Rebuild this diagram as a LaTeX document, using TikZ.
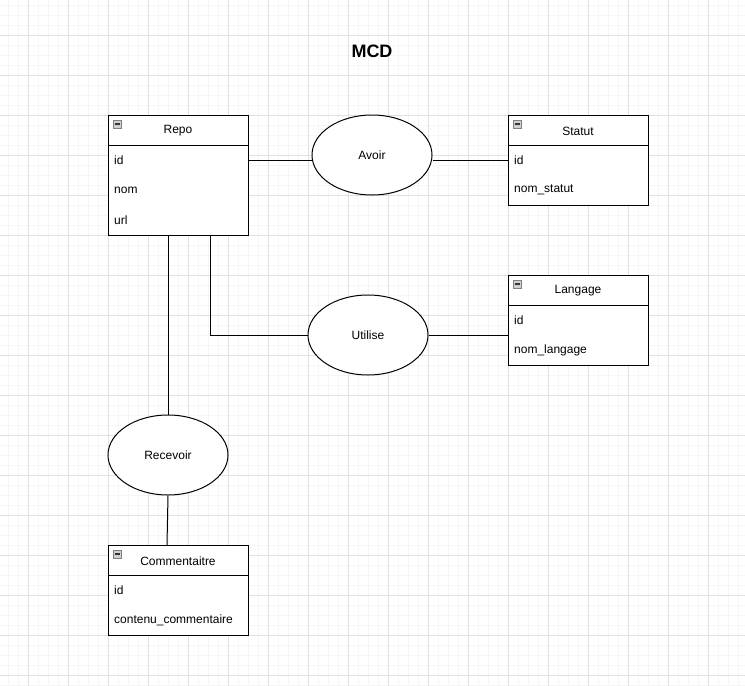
\documentclass[tikz,border=0pt]{standalone}
\usepackage{fontspec}
\setmainfont{Liberation Sans}
\usetikzlibrary{shapes.geometric}
\definecolor{gmajor}{HTML}{E0E0E0}
\definecolor{gminor}{HTML}{F6F6F6}
\definecolor{icongray}{HTML}{D0D0D0}
\tikzset{
  every node/.style={font=\fontsize{12}{14}\selectfont},
  entbox/.style={draw=black, line width=1pt, fill=white},
  assoc/.style={draw=black, ellipse, line width=1pt, fill=white, minimum width=120pt, minimum height=80pt, inner sep=0pt},
  link/.style={draw=black, line width=1pt},
  field/.style={anchor=west, inner sep=0pt},
  ttl/.style={inner sep=0pt},
  icon/.style={draw=gray, fill=icongray, line width=0.6pt, minimum size=8pt, inner sep=0pt},
}
\newcommand{\mkentity}[5]{% name, x, y, height, title
  \path[entbox] (#2pt,-#3pt) rectangle ++(140pt,-#4pt);
  \draw[line width=1pt] (#2pt,-#3pt-30pt) -- ++(140pt,0);
  \node[ttl] (#1) at (#2pt+70pt,-#3pt-16pt) {#5};
  \node[icon] (#1icon) at (#2pt+9.5pt,-#3pt-9pt) {};
  \draw[line width=1.2pt, black!80] (#2pt+7pt,-#3pt-9pt) -- ++(5pt,0);
}
\begin{document}
\begin{tikzpicture}[x=1pt,y=-1pt]
\useasboundingbox (0,0) rectangle (745,686);
\fill[white] (0,0) rectangle (745,686);
% minor grid
\foreach \i in {8,18,...,745} \draw[gminor, line width=0.8pt] (\i,0) -- (\i,686);
\foreach \j in {5,15,...,686} \draw[gminor, line width=0.8pt] (0,\j) -- (745,\j);
% major grid
\foreach \i in {28,68,...,745} \draw[gmajor, line width=1pt] (\i,0) -- (\i,686);
\foreach \j in {35,75,...,686} \draw[gmajor, line width=1pt] (0,\j) -- (745,\j);

\node[font=\fontsize{18}{20}\selectfont\bfseries] (title) at (372,51) {MCD};

% entities
\mkentity{repo}{108}{115}{120}{Repo}
\node[field] (repoid) at (114,160) {id};
\node[field] (reponom) at (114,190) {nom};
\node[field] (repourl) at (114,220) {url};
\coordinate (repoR) at (248,160);
\coordinate (repoB1) at (168,235);
\coordinate (repoB2) at (210,235);

\mkentity{statut}{508}{115}{90}{Statut}
\node[field] (statutid) at (514,160) {id};
\node[field] (statutnom) at (514,190) {nom\_statut};
\coordinate (statutL) at (508,160);

\mkentity{langage}{508}{275}{90}{Langage}
\node[field] (langid) at (514,320) {id};
\node[field] (langnom) at (514,350) {nom\_langage};
\coordinate (langL) at (508,335);

\mkentity{comm}{108}{545}{90}{Commentaitre}
\node[field] (commid) at (114,590) {id};
\node[field] (commcont) at (114,620) {contenu\_commentaire};
\coordinate (commT) at (167,545);

% associations
\node[assoc] (avoir) at (372,155) {Avoir};
\node[assoc] (utilise) at (368,335) {Utilise};
\node[assoc] (recevoir) at (168,455) {Recevoir};

% links
\draw[link] (repoR) -- (avoir.west |- repoR);
\draw[link] (avoir.east |- statutL) -- (statutL);
\draw[link] (repoB2) |- (utilise.west);
\draw[link] (utilise.east) -- (langL);
\draw[link] (repoB1) -- (recevoir.north);
\draw[link] (recevoir.south) -- (commT);
\end{tikzpicture}
\end{document}
